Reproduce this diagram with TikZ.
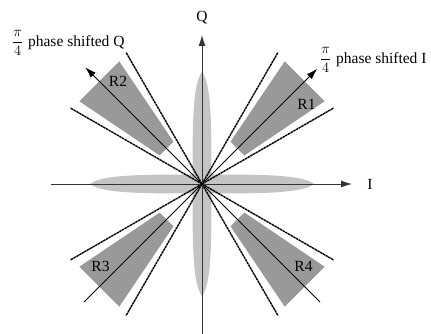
\documentclass[tikz,border=0pt]{standalone}
\usepackage{fontspec}
\setmainfont{Liberation Serif}
\usetikzlibrary{arrows.meta,calc}
\definecolor{sectgray}{HTML}{999999}
\definecolor{lobegray}{HTML}{C4C4C4}
\begin{document}
\begin{tikzpicture}[x=1pt,y=1pt,
  lbl/.style={font=\fontsize{15.5}{18}\selectfont, inner sep=0pt},
  axisline/.style={draw=black!80, line width=0.8pt, -{Latex[length=11pt,width=7pt]}},
  diagline/.style={draw=black, line width=0.8pt},
  diagarrow/.style={diagline, -{Latex[length=11pt,width=7pt]}},
  bound/.style={draw=black, line width=1.4pt, dash pattern=on 2.5pt off 0.6pt},
  sector/.style={fill=sectgray, draw=none},
  lobe/.style={fill=lobegray, draw=none}]
\useasboundingbox (0,0) rectangle (431,334);
\coordinate (C) at (202,150);
% sectors
\foreach \a in {0,90,180,270}{
  \fill[sector] ($(C)+(34+\a:51)$) -- ($(C)+(56+\a:51)$) -- ($(C)+(56+\a:148)$) -- ($(C)+(34+\a:148)$) -- cycle;
}
% lobes
\foreach \r in {0,90}{
  \begin{scope}[shift={(C)}, rotate=\r]
    \fill[lobe] (-112,0) .. controls (-100,9.5) and (-60,9.5) .. (0,9.5)
      .. controls (60,9.5) and (100,9.5) .. (112,0)
      .. controls (100,-9.5) and (60,-9.5) .. (0,-9.5)
      .. controls (-60,-9.5) and (-100,-9.5) .. cycle;
  \end{scope}
}
% boundary lines
\foreach \a in {30,60,120,150,210,240,300,330}{
  \coordinate (b\a) at ($(C)+(\a:152)$);
  \draw[bound] (C) -- (b\a);
}
% axes
\coordinate (xl) at (51,150);
\coordinate (xr) at (352,150);
\coordinate (yb) at (202,0);
\coordinate (yt) at (202,299);
\draw[axisline] (xl) -- (xr);
\draw[axisline] (yb) -- (yt);
\node[lbl] (I) at (370,150) {I};
\node[lbl] (Q) at (202,316) {Q};
% diagonals
\coordinate (d1) at ($(C)+(45:163)$);
\coordinate (d2) at ($(C)+(135:165)$);
\coordinate (d3) at ($(C)+(225:167)$);
\coordinate (d4) at ($(C)+(315:167)$);
\draw[diagarrow] (C) -- (d1);
\draw[diagarrow] (C) -- (d2);
\draw[diagline] (C) -- (d3);
\draw[diagline] (C) -- (d4);
% region labels
\node[lbl] (R1) at ($(C)+(104.5,80)$) {R1};
\node[lbl] (R2) at ($(C)+(-84,103)$) {R2};
\node[lbl] (R3) at ($(C)+(-101.5,-82)$) {R3};
\node[lbl] (R4) at ($(C)+(101.5,-82)$) {R4};
% axis names
\node[lbl, anchor=west] (PQ) at (12,291) {$\displaystyle\frac{\pi}{4}$\hspace{5pt}phase shifted Q};
\node[lbl, anchor=west] (PI) at (320,274) {$\displaystyle\frac{\pi}{4}$\hspace{5pt}phase shifted I};
\end{tikzpicture}
\end{document}
